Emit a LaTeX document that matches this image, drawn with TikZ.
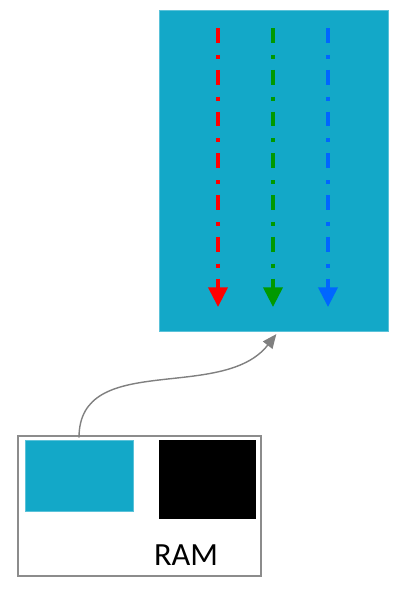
\documentclass[tikz,border=0pt]{standalone}
\usepackage{fontspec}
\setmainfont{Carlito}
\usepackage{tikz}
\usetikzlibrary{arrows.meta, positioning}
\definecolor{memcyan}{HTML}{13A8C8}
\definecolor{lanered}{HTML}{FF0000}
\definecolor{lanegreen}{HTML}{009900}
\definecolor{laneblue}{HTML}{0066FF}

\begin{document}
\begin{tikzpicture}[
  x=0.025cm, y=-0.025cm,
  cyanbox/.style={fill=memcyan, draw=memcyan!70!white, line width=0.4pt, inner sep=0pt},
  darkbox/.style={fill=black, draw=black, inner sep=0pt},
  frame/.style={draw=black!45, line width=0.8pt, fill=white, inner sep=0pt},
  lane/.style={line width=2.8pt, dash pattern=on 10.6pt off 8.5pt on 2.8pt off 7.8pt,
    -{Triangle[length=14pt, width=13.5pt]}},
  link/.style={draw=black!50, line width=1pt, -{Triangle[length=10pt, width=8.5pt]}}
]
\useasboundingbox (0,0) rectangle (404,592);

% grid of threads
\node[cyanbox, minimum width=5.725cm, minimum height=8.025cm] (grid) at (273.5,170.5) {};
\coordinate (r0) at (218,28);  \coordinate (r1) at (218,307);
\coordinate (g0) at (273,28);  \coordinate (g1) at (273,307);
\coordinate (b0) at (328,28);  \coordinate (b1) at (328,307);
\draw[lane, lanered] (r0) -- (r1);
\draw[lane, lanegreen] (g0) -- (g1);
\draw[lane, laneblue] (b0) -- (b1);

% memory
\node[frame, minimum width=6.075cm, minimum height=3.5cm] (ram) at (139.5,506) {};
\node[cyanbox, minimum width=2.7cm, minimum height=1.775cm] (data) at (79,475.5) {};
\node[darkbox, minimum width=2.4cm, minimum height=1.95cm] (rest) at (207,479) {};
\node[font=\fontsize{23}{27}\selectfont, inner sep=0pt] (ramlabel) at (186,555) {RAM};

\draw[link] ([yshift=1.5pt]data.north) to[out=90,in=-128] ([xshift=2pt,yshift=-2pt]grid.south);
\end{tikzpicture}
\end{document}
